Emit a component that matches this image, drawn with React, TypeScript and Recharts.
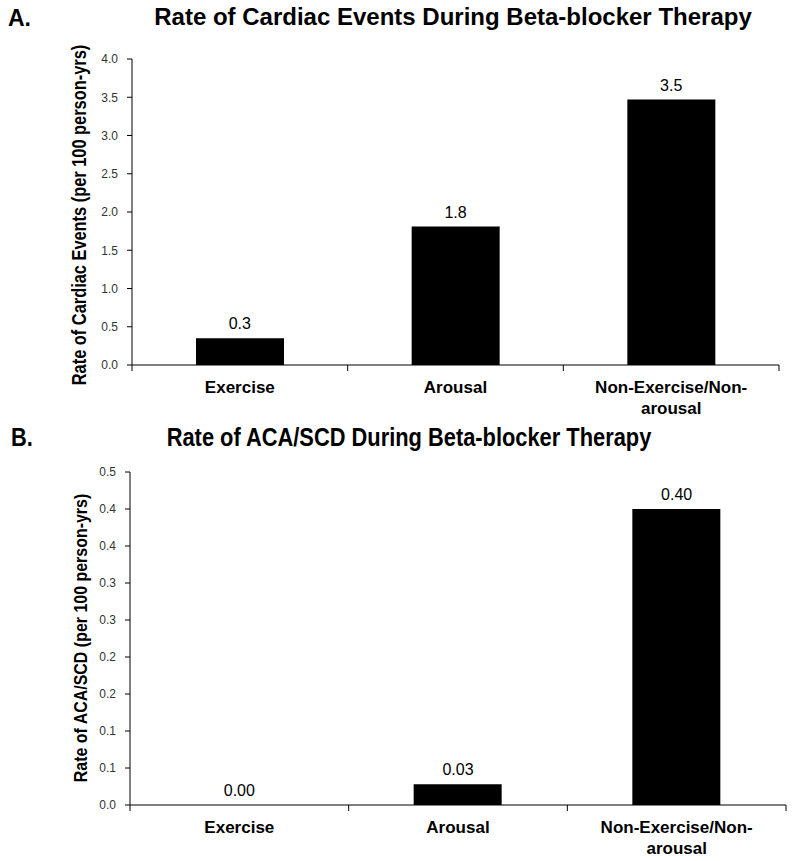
import React from 'react';
import { Bar, ComposedChart, LabelList, Line, XAxis, YAxis } from 'recharts';

const categories = ['Exercise', 'Arousal', 'Non-Exercise/Non-arousal'];

// panel A
const cardiacRates = [0.35, 1.81, 3.47];
const cardiacLabels = ['0.3', '1.8', '3.5'];
const cardiacTicks = [0, 0.5, 1, 1.5, 2, 2.5, 3, 3.5, 4];

// panel B
const acaRates = [0, 0.028, 0.4];
const acaLabels = ['0.00', '0.03', '0.40'];
const acaTicks = [0, 0.05, 0.1, 0.15, 0.2, 0.25, 0.3, 0.35, 0.4, 0.45];
const acaTickLabels = ['0.0', '0.1', '0.1', '0.2', '0.2', '0.3', '0.3', '0.4', '0.4', '0.5'];

const SANS = "'Liberation Sans', Arial, sans-serif";
const CHART_W = 800;
const Y_W = 104;

// label under the category + Excel style tick marks on the category edges
function CategoryTick({ x, y, index, payload, band }: any) {
  const lines = String(payload.value).replace('Non-arousal', 'Non-\narousal').split('\n');
  const left = x - band / 2;
  const right = x + band / 2;
  return (
    <g>
      <line x1={left} x2={left} y1={y} y2={y + 6} stroke="#000" strokeWidth={1} />
      {index === categories.length - 1 && <line x1={right} x2={right} y1={y} y2={y + 6} stroke="#000" strokeWidth={1} />}
      <text x={x} y={y} textAnchor="middle" fontFamily={SANS} fontWeight="bold" fontSize={17} fill="#000">
        {lines.map((l, i) => (
          <tspan key={i} x={x} dy={i === 0 ? 28 : 21}>
            {l}
          </tspan>
        ))}
      </text>
    </g>
  );
}

// narrow bold look, made by squeezing Liberation Sans
function NarrowTitle({ text, cx, cy, size, rotate }: { text: string; cx: number; cy: number; size: number; rotate?: boolean }) {
  return (
    <div
      style={{
        position: 'absolute',
        left: cx,
        top: cy,
        whiteSpace: 'nowrap',
        fontFamily: SANS,
        fontWeight: 'bold',
        fontSize: size,
        lineHeight: 1,
        transform: `translate(-50%, -50%) ${rotate ? 'rotate(-90deg) ' : ''}scale(0.84, 1)`,
      }}
    >
      {text}
    </div>
  );
}

interface PanelProps {
  top: number;
  height: number;
  margin: { top: number; right: number; bottom: number; left: number };
  rates: number[];
  labels: string[];
  ticks: number[];
  tickLabels?: string[];
  domain: [number, number];
  xHeight: number;
}

function Panel({ top, height, margin, rates, labels, ticks, tickLabels, domain, xHeight }: PanelProps) {
  const rows = categories.map((name, i) => ({ name, value: rates[i], label: labels[i] }));
  const band = (CHART_W - margin.left - margin.right - Y_W) / categories.length;
  return (
    <div style={{ position: 'absolute', left: 0, top }}>
      <ComposedChart width={CHART_W} height={height} data={rows} margin={margin}>
        <XAxis
          dataKey="name"
          height={xHeight}
          tickSize={0}
          tickMargin={0}
          tickLine={false}
          axisLine={{ stroke: '#000' }}
          tick={<CategoryTick band={band} />}
          interval={0}
        />
        <YAxis
          domain={domain}
          ticks={ticks}
          interval={0}
          width={Y_W}
          tickSize={5}
          tickMargin={9}
          axisLine={{ stroke: '#000' }}
          tickLine={{ stroke: '#000' }}
          tick={{ fontSize: 12, fill: '#333', fontFamily: SANS }}
          tickFormatter={(v: number, i: number) => (tickLabels ? tickLabels[i] : v.toFixed(1))}
        />
        <Bar dataKey="value" fill="#000" barSize={88} isAnimationActive={false} />
        <Line dataKey="value" stroke="none" dot={false} activeDot={false} legendType="none" isAnimationActive={false}>
          <LabelList dataKey="label" position="top" offset={9} fill="#000" fontSize={16} fontFamily={SANS} />
        </Line>
      </ComposedChart>
    </div>
  );
}

export default function App() {
  return (
    <div style={{ position: 'absolute', left: 0, top: 0, width: 800, height: 861, background: '#fff' }}>
      <Panel
        top={0}
        height={430}
        margin={{ top: 59, right: 21, bottom: 0, left: 28 }}
        rates={cardiacRates}
        labels={cardiacLabels}
        ticks={cardiacTicks}
        domain={[0, 4]}
        xHeight={65}
      />
      <Panel
        top={430}
        height={431}
        margin={{ top: 42, right: 14, bottom: 0, left: 26 }}
        rates={acaRates}
        labels={acaLabels}
        ticks={acaTicks}
        tickLabels={acaTickLabels}
        domain={[0, 0.45]}
        xHeight={56}
      />
      <div style={{ position: 'absolute', left: 8, top: 5, fontFamily: SANS, fontWeight: 'bold', fontSize: 23 }}>A.</div>
      <div
        style={{
          position: 'absolute',
          left: 0,
          width: 906,
          top: 3,
          textAlign: 'center',
          fontFamily: SANS,
          fontWeight: 'bold',
          fontSize: 24,
        }}
      >
        Rate of Cardiac Events During Beta-blocker Therapy
      </div>
      <NarrowTitle text="B." cx={22} cy={437} size={26} />
      <NarrowTitle text="Rate of ACA/SCD During Beta-blocker Therapy" cx={409} cy={437} size={26} />
      <NarrowTitle text="Rate of Cardiac Events (per 100 person-yrs)" cx={80} cy={215} size={19.5} rotate />
      <NarrowTitle text="Rate of ACA/SCD (per 100 person-yrs)" cx={80} cy={638} size={19} rotate />
    </div>
  );
}
